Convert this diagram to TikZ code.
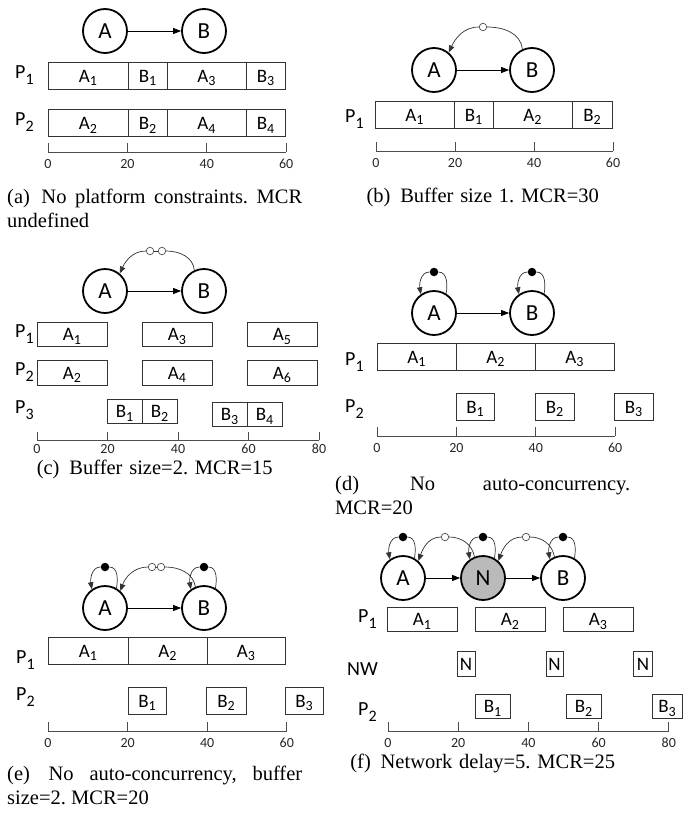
\documentclass[tikz,border=0pt]{standalone}
\usepackage{fontspec}
\setmainfont{Liberation Serif}
\newfontfamily\diafont{Carlito}
\usetikzlibrary{arrows.meta}
\frenchspacing

% task label with a low subscript
\newcommand{\tsk}[2]{#1\raisebox{-3.5pt}{\fontsize{14}{14}\selectfont #2}}
% processor label
\newcommand{\psub}[1]{\raisebox{-6.5pt}{\fontsize{16}{16}\selectfont #1}}

\begin{document}
\begin{tikzpicture}[
    x=1pt, y=1pt,
    actor/.style={
        circle,
        draw,
        line width=1.8pt,
        minimum size=44pt,
        inner sep=0pt,
        font=\diafont\fontsize{23}{26}\selectfont
    },
    netactor/.style={
        actor,
        fill=black!27
    },
    otok/.style={
        circle,
        draw=black!70,
        fill=white,
        line width=0.7pt,
        minimum size=7.5pt,
        inner sep=0pt
    },
    btok/.style={
        circle,
        fill=black,
        minimum size=8.5pt,
        inner sep=0pt
    },
    slot/.style={
        draw=black!80,
        line width=1pt,
        inner sep=0pt,
        minimum height=27pt,
        text height=13pt,
        text depth=0pt,
        font=\diafont\fontsize{19}{21}\selectfont
    },
    proc/.style={
        anchor=base west,
        inner sep=0pt,
        font=\diafont\fontsize{20}{22}\selectfont
    },
    tlabel/.style={
        inner sep=0pt,
        font=\diafont\fontsize{14}{15}\selectfont,
        text=black!85
    },
    axis/.style={
        draw=black!70,
        line width=0.9pt
    },
    arrow/.style={
        -{Triangle[length=8pt,width=6pt]},
        line width=0.8pt
    },
    edge/.style={
        -{Triangle[length=7pt,width=5.5pt]},
        line width=0.7pt,
        draw=black!80
    },
    plain/.style={
        line width=0.7pt,
        draw=black!80
    },
    subcap/.style={
        anchor=base west,
        inner sep=0pt,
        text width=295pt,
        align=justify,
        font=\fontsize{20.5}{24}\selectfont
    },
    subcapc/.style={
        subcap,
        align=center
    }
]
\useasboundingbox (0,0) rectangle (683,-814);

% (a) no platform constraints
\node[actor] (aA) at (105,-31) {A};
\node[actor] (aB) at (204,-31) {B};
\node[proc] (aP1) at (15,-78) {P\psub{1}};
\node[proc] (aP2) at (15,-125) {P\psub{2}};
\node[slot, minimum width=80pt] (aA1) at (88,-75.5) {\tsk{A}{1}};
\node[slot, minimum width=39pt] (aB1) at (147.5,-75.5) {\tsk{B}{1}};
\node[slot, minimum width=79pt] (aA3) at (206.5,-75.5) {\tsk{A}{3}};
\node[slot, minimum width=39pt] (aB3) at (265.5,-75.5) {\tsk{B}{3}};
\node[slot, minimum width=80pt] (aA2) at (88,-123) {\tsk{A}{2}};
\node[slot, minimum width=39pt] (aB2) at (147.5,-123) {\tsk{B}{2}};
\node[slot, minimum width=79pt] (aA4) at (206.5,-123) {\tsk{A}{4}};
\node[slot, minimum width=39pt] (aB4) at (265.5,-123) {\tsk{B}{4}};
\draw[arrow] (aA) -- (aB);
\draw[axis] (48,-152) -- (286,-152);
\foreach \tm in {0,20,40,60} {
    \draw[axis] ({48+3.97*\tm},-152) -- ++(0,9);
    \node[tlabel] (aT\tm) at ({48+3.97*\tm},-164) {\tm};
}
\node[subcap] (capA) at (7,-203) {(a)\hspace{3pt} No platform constraints. MCR\linebreak undefined};

% (b) buffer size 1
\node[actor] (bA) at (434,-70) {A};
\node[actor] (bB) at (532,-70) {B};
\node[otok] (bt) at (483,-27) {};
\node[proc] (bP1) at (345,-122) {P\psub{1}};
\node[slot, minimum width=79pt] (bA1) at (414.5,-114.5) {\tsk{A}{1}};
\node[slot, minimum width=39pt] (bB1) at (473.5,-114.5) {\tsk{B}{1}};
\node[slot, minimum width=79pt] (bA2) at (532.5,-114.5) {\tsk{A}{2}};
\node[slot, minimum width=40pt] (bB2) at (592,-114.5) {\tsk{B}{2}};
\draw[arrow] (bA) -- (bB);
\draw[plain] (bB.115) to[out=95,in=0] (bt);
\draw[edge] (bt) to[out=180,in=65] (bA.50);
\draw[axis] (376,-151) -- (613,-151);
\foreach \tm in {0,20,40,60} {
    \draw[axis] ({376+3.95*\tm},-151) -- ++(0,9);
    \node[tlabel] (bT\tm) at ({376+3.95*\tm},-163) {\tm};
}
\node[subcapc] (capB) at (335,-202) {(b)\hspace{3pt} Buffer size 1. MCR=30};

% (c) buffer size 2
\node[actor] (cA) at (105,-291) {A};
\node[actor] (cB) at (204,-291) {B};
\node[otok] (ct1) at (150,-251) {};
\node[otok] (ct2) at (162,-251) {};
\node[proc] (cP1) at (15,-337) {P\psub{1}};
\node[proc] (cP2) at (15,-375) {P\psub{2}};
\node[proc] (cP3) at (15,-413) {P\psub{3}};
\node[slot, minimum width=70pt, minimum height=24pt] (cA1) at (72,-334) {\tsk{A}{1}};
\node[slot, minimum width=70pt, minimum height=24pt] (cA3) at (177,-334) {\tsk{A}{3}};
\node[slot, minimum width=70pt, minimum height=24pt] (cA5) at (282,-334) {\tsk{A}{5}};
\node[slot, minimum width=70pt, minimum height=25pt] (cA2) at (72,-372.5) {\tsk{A}{2}};
\node[slot, minimum width=70pt, minimum height=25pt] (cA4) at (177,-372.5) {\tsk{A}{4}};
\node[slot, minimum width=70pt, minimum height=25pt] (cA6) at (282,-372.5) {\tsk{A}{6}};
\node[slot, minimum width=35pt, minimum height=24pt] (cB1) at (124.5,-411) {\tsk{B}{1}};
\node[slot, minimum width=35pt, minimum height=24pt] (cB2) at (159.5,-411) {\tsk{B}{2}};
\node[slot, minimum width=35pt, minimum height=24pt] (cB3) at (229.5,-414) {\tsk{B}{3}};
\node[slot, minimum width=35pt, minimum height=24pt] (cB4) at (264.5,-414) {\tsk{B}{4}};
\draw[arrow] (cA) -- (cB);
\draw[plain] (cB.115) to[out=95,in=0] (ct2);
\draw[plain] (ct2) -- (ct1);
\draw[edge] (ct1) to[out=180,in=65] (cA.50);
\draw[axis] (37,-440) -- (319,-440);
\foreach \tm in {0,20,40,60,80} {
    \draw[axis] ({37+3.525*\tm},-440) -- ++(0,8);
    \node[tlabel] (cT\tm) at ({37+3.525*\tm},-449) {\tm};
}
\node[subcapc] (capC) at (7,-474) {(c)\hspace{3pt} Buffer size=2. MCR=15};

% (d) no auto-concurrency
\node[actor] (dA) at (434,-313) {A};
\node[actor] (dB) at (532,-313) {B};
\node[btok] (dtA) at (434,-272) {};
\node[btok] (dtB) at (532,-272) {};
\node[proc] (dP1) at (345,-365) {P\psub{1}};
\node[proc] (dP2) at (345,-412) {P\psub{2}};
\node[slot, minimum width=79pt] (dA1) at (416.5,-356.5) {\tsk{A}{1}};
\node[slot, minimum width=79pt] (dA2) at (495.5,-356.5) {\tsk{A}{2}};
\node[slot, minimum width=79pt] (dA3) at (574.5,-356.5) {\tsk{A}{3}};
\node[slot, minimum width=38pt] (dB1) at (475,-406.5) {\tsk{B}{1}};
\node[slot, minimum width=39pt] (dB2) at (554.5,-406.5) {\tsk{B}{2}};
\node[slot, minimum width=39pt] (dB3) at (633.5,-406.5) {\tsk{B}{3}};
\draw[arrow] (dA) -- (dB);
\draw[plain] (dA.58) to[out=80,in=0] (dtA);
\draw[edge] (dtA) to[out=180,in=100] (dA.125);
\draw[plain] (dB.58) to[out=80,in=0] (dtB);
\draw[edge] (dtB) to[out=180,in=100] (dB.125);
\draw[axis] (377,-436) -- (615,-436);
\foreach \tm in {0,20,40,60} {
    \draw[axis] ({377+3.97*\tm},-436) -- ++(0,9);
    \node[tlabel] (dT\tm) at ({377+3.97*\tm},-448) {\tm};
}
\node[subcap] (capD) at (335,-490) {(d)\hspace{3pt} No auto-concurrency.\linebreak MCR=20};

% (e) no auto-concurrency, buffer size 2
\node[actor] (eA) at (105,-608) {A};
\node[actor] (eB) at (204,-608) {B};
\node[btok] (etA) at (105,-567) {};
\node[btok] (etB) at (204,-567) {};
\node[otok] (et1) at (152,-567) {};
\node[otok] (et2) at (161,-567) {};
\node[proc] (eP1) at (16,-663) {P\psub{1}};
\node[proc] (eP2) at (16,-700) {P\psub{2}};
\node[slot, minimum width=80pt] (eA1) at (88,-650.5) {\tsk{A}{1}};
\node[slot, minimum width=79pt] (eA2) at (167.5,-650.5) {\tsk{A}{2}};
\node[slot, minimum width=78pt] (eA3) at (246,-650.5) {\tsk{A}{3}};
\node[slot, minimum width=38pt] (eB1) at (147,-700.5) {\tsk{B}{1}};
\node[slot, minimum width=40pt] (eB2) at (226,-700.5) {\tsk{B}{2}};
\node[slot, minimum width=38pt] (eB3) at (304,-700.5) {\tsk{B}{3}};
\draw[arrow] (eA) -- (eB);
\draw[plain] (eA.60) to[out=80,in=0] (etA);
\draw[edge] (etA) to[out=180,in=100] (eA.125);
\draw[plain] (eB.60) to[out=80,in=0] (etB);
\draw[edge] (etB) to[out=180,in=100] (eB.125);
\draw[plain] (eB.112) to[out=100,in=0] (et2);
\draw[plain] (et2) -- (et1);
\draw[edge] (et1) to[out=180,in=70] (eA.48);
\draw[axis] (48,-731) -- (287,-731);
\foreach \tm in {0,20,40,60} {
    \draw[axis] ({48+3.98*\tm},-731) -- ++(0,9);
    \node[tlabel] (eT\tm) at ({48+3.98*\tm},-743) {\tm};
}
\node[subcap] (capE) at (7,-780) {(e)\hspace{3pt} No auto-concurrency, buffer\linebreak size=2. MCR=20};

% (f) network delay
\node[actor] (fA) at (403,-578) {A};
\node[netactor] (fN) at (483,-578) {N};
\node[actor] (fB) at (563,-578) {B};
\node[btok] (ftA) at (403,-537) {};
\node[btok] (ftN) at (483,-537) {};
\node[btok] (ftB) at (563,-537) {};
\node[otok] (fo1) at (445,-537) {};
\node[otok] (fo2) at (526,-537) {};
\node[proc] (fP1) at (358,-622) {P\psub{1}};
\node[proc] (fNW) at (347,-675) {NW};
\node[proc] (fP2) at (358,-715) {P\psub{2}};
\node[slot, minimum width=70pt, minimum height=24pt] (fA1) at (422,-619) {\tsk{A}{1}};
\node[slot, minimum width=70pt, minimum height=24pt] (fA2) at (510,-619) {\tsk{A}{2}};
\node[slot, minimum width=70pt, minimum height=24pt] (fA3) at (598,-619) {\tsk{A}{3}};
\node[slot, minimum width=18pt, minimum height=25pt] (fN1) at (466,-663.5) {N};
\node[slot, minimum width=17pt, minimum height=25pt] (fN2) at (554.5,-663.5) {N};
\node[slot, minimum width=19pt, minimum height=25pt] (fN3) at (643,-663.5) {N};
\node[slot, minimum width=35pt, minimum height=24pt] (fB1) at (492.5,-706) {\tsk{B}{1}};
\node[slot, minimum width=35pt, minimum height=24pt] (fB2) at (583.5,-706) {\tsk{B}{2}};
\node[slot, minimum width=30pt, minimum height=24pt] (fB3) at (667,-706) {\tsk{B}{3}};
\draw[arrow] (fA) -- (fN);
\draw[arrow] (fN) -- (fB);
\draw[plain] (fA.60) to[out=80,in=0] (ftA);
\draw[edge] (ftA) to[out=180,in=100] (fA.125);
\draw[plain] (fN.60) to[out=80,in=0] (ftN);
\draw[edge] (ftN) to[out=180,in=100] (fN.125);
\draw[plain] (fB.60) to[out=80,in=0] (ftB);
\draw[edge] (ftB) to[out=180,in=100] (fB.125);
\draw[plain] (fN.112) to[out=100,in=0] (fo1);
\draw[edge] (fo1) to[out=180,in=70] (fA.48);
\draw[plain] (fB.112) to[out=100,in=0] (fo2);
\draw[edge] (fo2) to[out=180,in=70] (fN.48);
\draw[axis] (388,-731) -- (669,-731);
\foreach \tm in {0,20,40,60,80} {
    \draw[axis] ({388+3.51*\tm},-731) -- ++(0,9);
    \node[tlabel] (fT\tm) at ({388+3.51*\tm},-743) {\tm};
}
\node[subcapc] (capF) at (335,-768) {(f)\hspace{3pt} Network delay=5. MCR=25};

\end{tikzpicture}
\end{document}
